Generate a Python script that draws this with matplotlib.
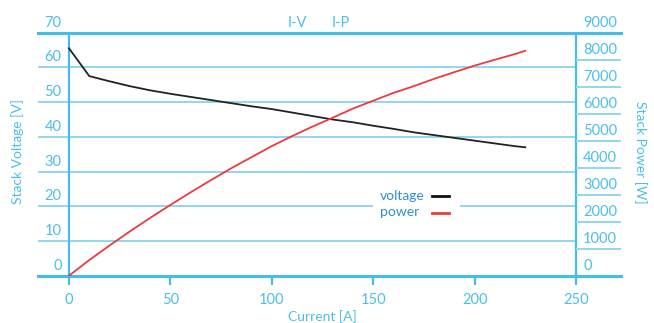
import matplotlib
matplotlib.use("Agg")
from matplotlib import pyplot as plt
from matplotlib.lines import Line2D
from matplotlib.patches import Rectangle

# values
current = [0, 10, 20, 30, 40, 50, 60, 70, 80, 90, 100, 110, 120, 130, 140,
           150, 160, 170, 180, 190, 200, 210, 220, 225]
voltage = [65.5, 57.5, 56.0, 54.6, 53.4, 52.4, 51.5, 50.6, 49.7, 48.8, 48.0,
           47.0, 46.0, 45.0, 44.2, 43.2, 42.3, 41.3, 40.5, 39.7, 38.9, 38.1,
           37.3, 37.0]
power = [0, 580, 1120, 1640, 2140, 2620, 3090, 3540, 3980, 4390, 4800, 5170,
         5520, 5850, 6190, 6480, 6770, 7020, 7290, 7540, 7780, 8000, 8210, 8330]

v_ticks = [0, 10, 20, 30, 40, 50, 60, 70]
p_ticks = [0, 1000, 2000, 3000, 4000, 5000, 6000, 7000, 8000, 9000]
x_ticks = [0, 50, 100, 150, 200, 250]
series = ["voltage", "power"]

BLUE = "#45bde8"
GRID = "#93d6f0"
TXT = "#4cbfe9"
LINE_COLORS = ["#111111", "#ec3a3f"]

plt.rcParams['font.family'] = ['Lato', 'DejaVu Sans']

W, H = 654, 323
fig = plt.figure(figsize=(W / 100, H / 100), dpi=100)
x0, x1, y0, y1 = 38, 621, 32.7, 275.7
ax = fig.add_axes([x0 / W, 1 - y1 / H, (x1 - x0) / W, (y1 - y0) / H])
ax2 = ax.twinx()

pxu = (576 - 69) / 250
xl = (x0 - 69) / pxu
xr = (x1 - 69) / pxu
ax.set_xlim(xl, xr)
ax.set_ylim(0, 70)
ax2.set_ylim(0, 9000)

for a in (ax, ax2):
    for s in ("left", "right"):
        a.spines[s].set_visible(False)
    for s in ("top", "bottom"):
        a.spines[s].set_color(BLUE)
        a.spines[s].set_linewidth(2.2)
    a.set_yticks([])

# voltage grid across the plot, power grid only in the right margin
ax.hlines(v_ticks[1:-1], xl, 250, color=GRID, lw=1.4, zorder=1)
ax2.hlines(p_ticks[1:-1], 250, xr, color=GRID, lw=1.4, zorder=1)
ax.vlines([0, 250], -2.6, 70, color=BLUE, lw=1.6, clip_on=False, zorder=2)

ax.set_xticks(x_ticks[1:-1])
ax.set_xticklabels([])
ax.tick_params(axis="x", direction="out", length=6.5, width=1.6, color=BLUE)
for x in x_ticks:
    ax.text(x, -0.1, str(x), transform=ax.get_xaxis_transform(), ha="center",
            va="center", color=TXT, fontsize=10.5)

for v in v_ticks:
    ax.text(61.5 / W, 1 - (y1 - (y1 - y0) * v / 70 - 10) / H, str(v),
            transform=fig.transFigure, ha="right", va="center", color=TXT,
            fontsize=10.5)
for p in p_ticks:
    ax.text(583 / W, 1 - (y1 - (y1 - y0) * p / 9000 - 10) / H, str(p),
            transform=fig.transFigure, ha="left", va="center", color=TXT,
            fontsize=10.5)

ax.text(297 / W, 1 - 22.7 / H, "I-V", transform=fig.transFigure, ha="center",
        va="center", color=TXT, fontsize=10.5)
ax.text(341 / W, 1 - 22.7 / H, "I-P", transform=fig.transFigure, ha="center",
        va="center", color=TXT, fontsize=10.5)

fig.text(18 / W, 1 - 152 / H, "Stack Voltage [V]", rotation=90, ha="center",
         va="center", color=TXT, fontsize=10)
fig.text(640 / W, 1 - 152 / H, "Stack Power [W]", rotation=270, ha="center",
         va="center", color=TXT, fontsize=10)
fig.text(322 / W, 1 - 317 / H, "Current [A]", ha="center", va="center",
         color=TXT, fontsize=10)

ax.plot(current, voltage, color="#222222", lw=1.3, zorder=3)
ax2.plot(current, power, color=LINE_COLORS[1], lw=1.3, zorder=3)

# legend: text on the left, short line on the right, white box over the grid
fig.patches.append(Rectangle((373 / W, 1 - 220 / H), 87 / W, 33 / H,
                             transform=fig.transFigure, facecolor="white",
                             edgecolor="none", zorder=5))
for i, name in enumerate(series):
    yy = 1 - (195.5 + 17 * i) / H
    fig.text(380 / W, yy, name, ha="left", va="center", color="#2f8fd0",
             fontsize=10, zorder=6)
    fig.lines.append(Line2D([432 / W, 449 / W], [yy, yy],
                            transform=fig.transFigure, color=LINE_COLORS[i],
                            lw=2, zorder=6))

fig.savefig("out.png", dpi=100)
